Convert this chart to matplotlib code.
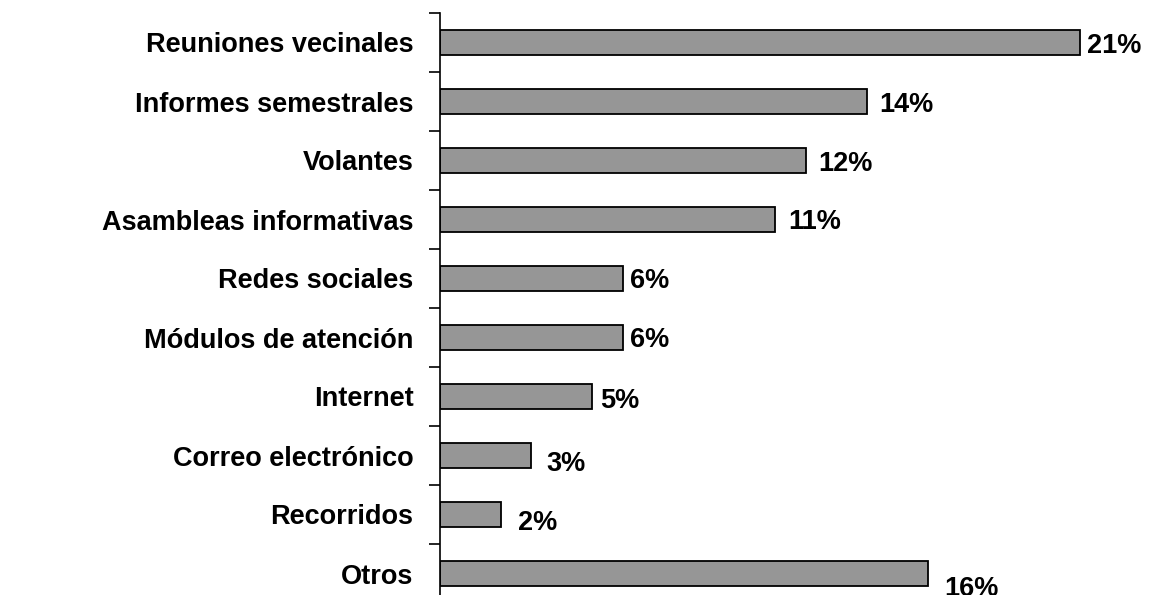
import matplotlib
matplotlib.use("Agg")
import matplotlib.pyplot as plt
import numpy as np

categories = ["Reuniones vecinales", "Informes semestrales", "Volantes",
              "Asambleas informativas", "Redes sociales", "Módulos de atención",
              "Internet", "Correo electrónico", "Recorridos", "Otros"]
values = [21, 14, 12, 11, 6, 6, 5, 3, 2, 16]
value_labels = ["21%", "14%", "12%", "11%", "6%", "6%", "5%", "3%", "2%", "16%"]

# layout: value label offsets from bar end (pixels): right gap, downward shift
label_dx_px = [7, 13, 12, 13, 7, 7, 8, 15, 17, 17]
label_dy_px = [1, 1, 1, 0, 0, 0, 2, 6, 5.5, 13]

plt.rcParams['font.family'] = ['Liberation Sans', 'DejaVu Sans']

FS = 19.5
fig = plt.figure(figsize=(11.6, 5.95), dpi=100)
ax = fig.add_axes([440/1160, 1 - 603/595, 720/1160, 590/595])

y = np.arange(len(categories))
ax.barh(y, values, height=0.41, color="#969696", edgecolor="black", linewidth=1.3)

ax.set_ylim(len(categories) - 0.5, -0.5)
ax.set_xlim(0, 720/30.48)

ax.set_yticks(y)
ax.set_yticklabels(categories, fontsize=FS, fontweight="bold")
ax.set_yticks(np.arange(-0.5, len(categories) + 0.5, 1), minor=True)
ax.tick_params(axis="y", which="major", length=0, pad=19)
ax.tick_params(axis="y", which="minor", length=8, width=1.2, direction="out")
ax.set_xticks([])

for s in ["top", "right", "bottom"]:
    ax.spines[s].set_visible(False)
ax.spines["left"].set_linewidth(1.2)

cap_half = 0.716 * FS / 2
for yi, v, lab, dx, dy in zip(y, values, value_labels, label_dx_px, label_dy_px):
    ax.annotate(lab, (v, yi), xytext=(dx * 0.72, -cap_half - dy * 0.72),
                textcoords="offset points",
                ha="left", va="baseline", fontsize=FS, fontweight="bold")

fig.savefig("out.png", dpi=100)
